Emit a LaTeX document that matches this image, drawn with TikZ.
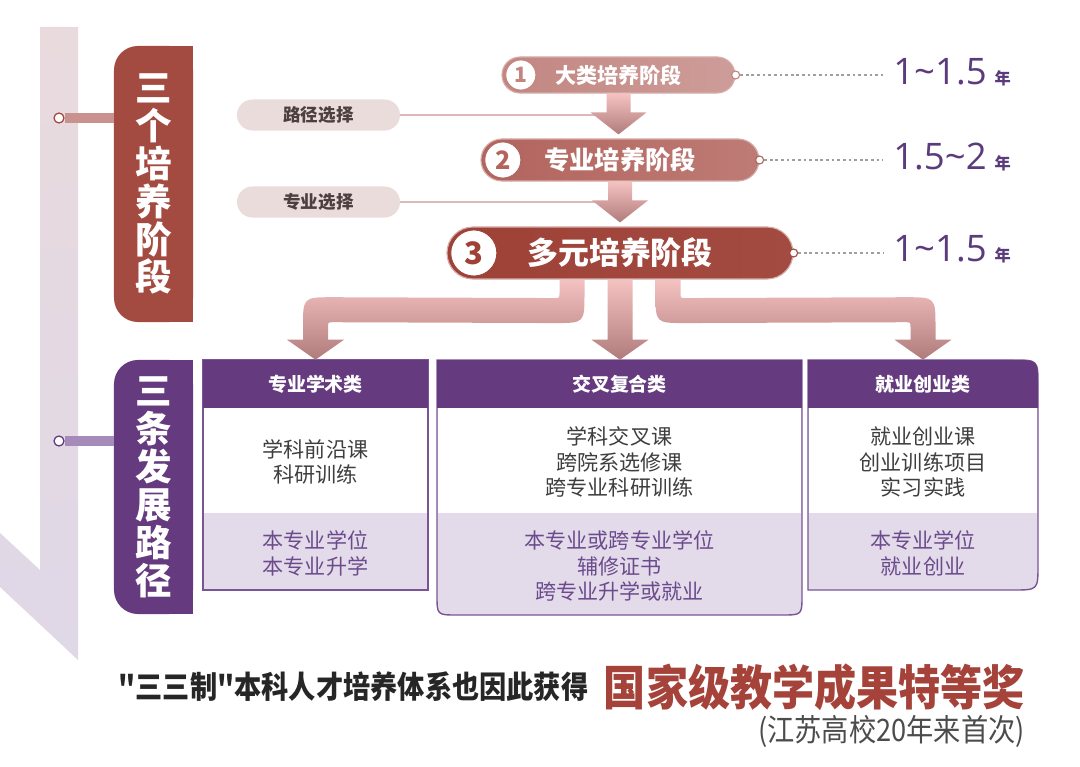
\documentclass[tikz,border=0pt]{standalone}
\usepackage{fontspec}
\setmainfont{Noto Sans CJK SC}
\newfontfamily\numfont{Open Sans}
\newfontfamily\condfont{Noto Sans CJK SC}[FakeStretch=0.88]
\usetikzlibrary{arrows.meta,positioning,calc,backgrounds}
\definecolor{redone}{HTML}{C28681}
\definecolor{redonelt}{HTML}{CE9D99}
\definecolor{redtwo}{HTML}{B2645D}
\definecolor{redtwolt}{HTML}{BE7B75}
\definecolor{redthree}{HTML}{A34B41}
\definecolor{redthreedk}{HTML}{9E4137}
\definecolor{selgray}{HTML}{EBDCDC}
\definecolor{seltext}{HTML}{4B3F3F}
\definecolor{selline}{HTML}{DDB8B8}
\definecolor{pathpurple}{HTML}{653A7E}
\definecolor{lavender}{HTML}{E3DBEA}
\definecolor{boxline}{HTML}{7A5596}
\definecolor{bodygray}{HTML}{3E3E3E}
\definecolor{outpurple}{HTML}{6C4B8D}
\definecolor{yearpurple}{HTML}{5B3B7C}
\definecolor{arrtop}{HTML}{F5C2C2}
\definecolor{arrbot}{HTML}{B07B7B}
\definecolor{bartop}{HTML}{E9DADD}
\definecolor{barbot}{HTML}{DFD8E7}
\definecolor{pinred}{HTML}{C9928E}
\definecolor{pinpurple}{HTML}{A68BBA}
\definecolor{awardred}{HTML}{A5433A}
\tikzset{
  vlbl/.style={minimum width=1.975cm,align=center,text=white,rounded corners=0.6cm,
    font=\bfseries\fontsize{26pt}{27pt}\selectfont},
  stagelbl/.style={vlbl,minimum height=6.9cm,fill=redthree},
  pathlbl/.style={vlbl,minimum height=6.35cm,fill=pathpurple},
  pillbase/.style={draw=white!55!redthree,line width=0.8pt,text=white,inner sep=0},
  pillone/.style={pillbase,minimum width=5.825cm,minimum height=0.9cm,rounded corners=0.45cm,
    left color=redone,right color=redonelt,font=\bfseries\fontsize{15pt}{18pt}\selectfont},
  pilltwo/.style={pillbase,minimum width=6.95cm,minimum height=1.05cm,rounded corners=0.525cm,
    left color=redtwo,right color=redtwolt,font=\bfseries\fontsize{18pt}{20pt}\selectfont},
  pillthree/.style={pillbase,minimum width=8.65cm,minimum height=1.3cm,rounded corners=0.65cm,
    left color=redthreedk,right color=redthree,font=\bfseries\fontsize{22pt}{24pt}\selectfont},
  numc/.style={circle,fill=white,draw=#1,line width=0.6pt,text=#1,inner sep=0,font=\bfseries},
  selpill/.style={fill=selgray,rounded corners=0.3875cm,minimum width=4.075cm,minimum height=0.775cm,
    text=seltext,inner sep=0,font=\bfseries\fontsize{12.5pt}{14pt}\selectfont},
  sellink/.style={draw=selline,line width=0.8pt},
  arrshade/.style={top color=arrtop,bottom color=arrbot},
  pinmark/.style={circle,fill=white,draw=#1,line width=0.9pt,minimum size=0.25cm,inner sep=0},
  endmark/.style={circle,fill=white,draw=#1,line width=0.8pt,minimum size=0.2cm,inner sep=0},
  dashline/.style={draw=gray!75,line width=0.9pt,dash pattern=on 2pt off 2pt,shorten >=0.25cm},
  yrtxt/.style={text=yearpurple,inner sep=0,anchor=base west,font=\numfont\fontsize{26pt}{28pt}\selectfont},
  hdr/.style={text=white,minimum height=1.2cm,font=\bfseries\fontsize{13.5pt}{16pt}\selectfont},
  bodytxt/.style={text=bodygray,align=center,font=\fontsize{15pt}{18pt}\selectfont},
  outtxt/.style={bodytxt,text=outpurple},
  introtxt/.style={inner sep=0,text=black!85,font=\condfont\bfseries\fontsize{22pt}{26pt}\selectfont},
  awardtxt/.style={inner sep=0,text=awardred,font=\condfont\bfseries\fontsize{34pt}{36pt}\selectfont},
  notetxt/.style={inner sep=0,text=black!70,font=\condfont\fontsize{22pt}{24pt}\selectfont}
}

\begin{document}
\begin{tikzpicture}[x=0.025cm,y=-0.025cm]
  \useasboundingbox (0,0) rectangle (1080,767);

  % left timeline bar
  \shade[top color=bartop,bottom color=barbot]
    (40,27) -- (78,27) -- (78,660) -- (0,587) -- (0,533) -- (40,570) -- cycle;

  % three path boxes
  \filldraw[fill=lavender,draw=boxline,line width=1pt] (203,360) rectangle (428,590);
  \filldraw[fill=lavender,draw=boxline,line width=1pt] (437,360) -- (802,360) -- (802,595)
    .. controls (802,615) .. (782,615) -- (457,615) .. controls (437,615) .. (437,595) -- cycle;
  \filldraw[fill=lavender,draw=boxline,line width=1pt] (808,360) -- (1013,360)
    .. controls (1038,360) .. (1038,385) -- (1038,565) .. controls (1038,590) .. (1013,590) -- (808,590) -- cycle;
  \fill[white] (204,408) rectangle (427,513);
  \fill[white] (438,408) rectangle (801,513);
  \fill[white] (809,408) rectangle (1037,513);
  \fill[pathpurple] (203,360) rectangle (428,408);
  \fill[pathpurple] (437,360) rectangle (802,408);
  \fill[pathpurple] (808,360) -- (1013,360) .. controls (1038,360) .. (1038,385) -- (1038,408) -- (808,408) -- cycle;

  % side labels
  \node[stagelbl] (lbl1) at (153.5,184) {三\\个\\培\\养\\阶\\段};
  \node[pathlbl] (lbl2) at (153.5,487) {三\\条\\发\\展\\路\\径};
  \begin{scope}[on background layer]
    \fill[redthree] (lbl1.north) rectangle (lbl1.south east);
    \fill[pathpurple] (lbl2.north) rectangle (lbl2.south east);
  \end{scope}
  \node[pinmark=redthree] (pin1) at (59,118) {};
  \node[pinmark=pathpurple] (pin2) at (59,441) {};
  \draw[line width=0.25cm,draw=pinred] (pin1.east) -- (pin1.east -| lbl1.west);
  \draw[line width=0.25cm,draw=pinpurple] (pin2.east) -- (pin2.east -| lbl2.west);

  % stages
  \node[pillone] (p1) at (618.5,75) {大类培养阶段};
  \node[pilltwo] (p2) at (620,160) {专业培养阶段};
  \node[pillthree] (p3) at (620,253) {多元培养阶段};
  \node[numc=redone,minimum size=0.75cm,right=0.1cm of p1.west] (n1) {\fontsize{15pt}{15pt}\selectfont 1};
  \node[numc=redtwo,minimum size=0.9cm,right=0.1cm of p2.west] (n2) {\fontsize{18pt}{18pt}\selectfont 2};
  \node[numc=redthreedk,minimum size=1.15cm,right=0.1cm of p3.west] (n3) {\fontsize{22pt}{22pt}\selectfont 3};

  \node[selpill] (g1) at (318.5,115) {路径选择};
  \node[selpill] (g2) at (318.5,202) {专业选择};
  \draw[sellink] (g1.east) -- (g1.east -| p1.south);
  \draw[sellink] (g2.east) -- (g2.east -| p1.south);

  % stage arrows
  \coordinate (t1) at (p1.south |- p2.north);
  \coordinate (t2) at (p2.south |- p3.north);
  \shade[arrshade] ($(p1.south)+(-12,0)$) -- ($(t1)+(-12,-26)$) -- ($(t1)+(-28,-26)$) -- ($(t1)+(0,-4)$)
    -- ($(t1)+(28,-26)$) -- ($(t1)+(12,-26)$) -- ($(p1.south)+(12,0)$) -- cycle;
  \shade[arrshade] ($(p2.south)+(-12,0)$) -- ($(t2)+(-12,-26)$) -- ($(t2)+(-28,-26)$) -- ($(t2)+(0,-4)$)
    -- ($(t2)+(28,-26)$) -- ($(t2)+(12,-26)$) -- ($(p2.south)+(12,0)$) -- cycle;

  % durations
  \node[endmark=redone] (m1) at (p1.east) {};
  \node[endmark=redtwo] (m2) at (p2.east) {};
  \node[endmark=redthree] (m3) at (p3.east) {};
  \node[yrtxt] (y1) at (893,85) {1\textasciitilde1.5\hspace{0.2cm}{\rmfamily\bfseries\fontsize{11.5pt}{12pt}\selectfont 年}};
  \node[yrtxt] (y2) at (893,170) {1.5\textasciitilde2\hspace{0.2cm}{\rmfamily\bfseries\fontsize{11.5pt}{12pt}\selectfont 年}};
  \node[yrtxt] (y3) at (893,262) {1\textasciitilde1.5\hspace{0.2cm}{\rmfamily\bfseries\fontsize{11.5pt}{12pt}\selectfont 年}};
  \draw[dashline] (m1.east) -- (m1 -| y1.west);
  \draw[dashline] (m2.east) -- (m2 -| y2.west);
  \draw[dashline] (m3.east) -- (m3 -| y3.west);

  % box texts
  \node[hdr] (h1) at (315.5,384) {专业学术类};
  \node[hdr] (h2) at (619.5,384) {交叉复合类};
  \node[hdr] (h3) at (923,384) {就业创业类};
  \node[bodytxt] (c1) at (315.5,462) {学科前沿课\\科研训练};
  \node[bodytxt] (c2) at (619.5,462) {学科交叉课\\跨院系选修课\\跨专业科研训练};
  \node[bodytxt] (c3) at (923,462) {就业创业课\\创业训练项目\\实习实践};
  \node[outtxt] (d1) at (315.5,553.5) {本专业学位\\本专业升学};
  \node[outtxt] (d2) at (619.5,566) {本专业或跨专业学位\\辅修证书\\跨专业升学或就业};
  \node[outtxt] (d3) at (923,553.5) {本专业学位\\就业创业};

  % branch arrows
  \coordinate (bl) at ($(p3.south)+(-48,0)$);
  \coordinate (br) at ($(p3.south)+(48,0)$);
  \coordinate (tm) at (p3.south |- h2.north);
  \shade[arrshade] ($(bl)+(-12.5,0)$) -- ($(bl)+(12.5,0)$) -- ($(bl)+(12.5,13.5)$)
    .. controls ($(bl)+(12.5,43.5)$) .. ($(bl)+(-17.5,43.5)$) -- ($(h1.north)+(17.5,-37.5)$)
    .. controls ($(h1.north)+(12.5,-37.5)$) .. ($(h1.north)+(12.5,-32.5)$) -- ($(h1.north)+(12.5,-20)$)
    -- ($(h1.north)+(28.5,-20)$) -- (h1.north) -- ($(h1.north)+(-28.5,-20)$) -- ($(h1.north)+(-12.5,-20)$)
    -- ($(h1.north)+(-12.5,-32.5)$) .. controls ($(h1.north)+(-12.5,-62.5)$) .. ($(h1.north)+(17.5,-62.5)$)
    -- ($(bl)+(-17.5,18.5)$) .. controls ($(bl)+(-12.5,18.5)$) .. ($(bl)+(-12.5,13.5)$) -- cycle;
  \shade[arrshade] ($(p3.south)+(-12.5,0)$) -- ($(tm)+(-12.5,-20)$) -- ($(tm)+(-28.5,-20)$) -- (tm)
    -- ($(tm)+(28.5,-20)$) -- ($(tm)+(12.5,-20)$) -- ($(p3.south)+(12.5,0)$) -- cycle;
  \shade[arrshade] ($(br)+(12.5,0)$) -- ($(br)+(-12.5,0)$) -- ($(br)+(-12.5,13.5)$)
    .. controls ($(br)+(-12.5,43.5)$) .. ($(br)+(17.5,43.5)$) -- ($(h3.north)+(-17.5,-37.5)$)
    .. controls ($(h3.north)+(-12.5,-37.5)$) .. ($(h3.north)+(-12.5,-32.5)$) -- ($(h3.north)+(-12.5,-20)$)
    -- ($(h3.north)+(-28.5,-20)$) -- (h3.north) -- ($(h3.north)+(28.5,-20)$) -- ($(h3.north)+(12.5,-20)$)
    -- ($(h3.north)+(12.5,-32.5)$) .. controls ($(h3.north)+(12.5,-62.5)$) .. ($(h3.north)+(-17.5,-62.5)$)
    -- ($(br)+(17.5,18.5)$) .. controls ($(br)+(12.5,18.5)$) .. ($(br)+(12.5,13.5)$) -- cycle;

  % award line
  \node[awardtxt,anchor=east] (award) at (1025,687) {国家级教学成果特等奖};
  \node[introtxt,left=0.375cm of award] (intro) {"三三制"本科人才培养体系也因此获得};
  \node[notetxt,anchor=north east] (note) at ([yshift=-0.1cm]award.south east) {(江苏高校20年来首次)};
\end{tikzpicture}
\end{document}
